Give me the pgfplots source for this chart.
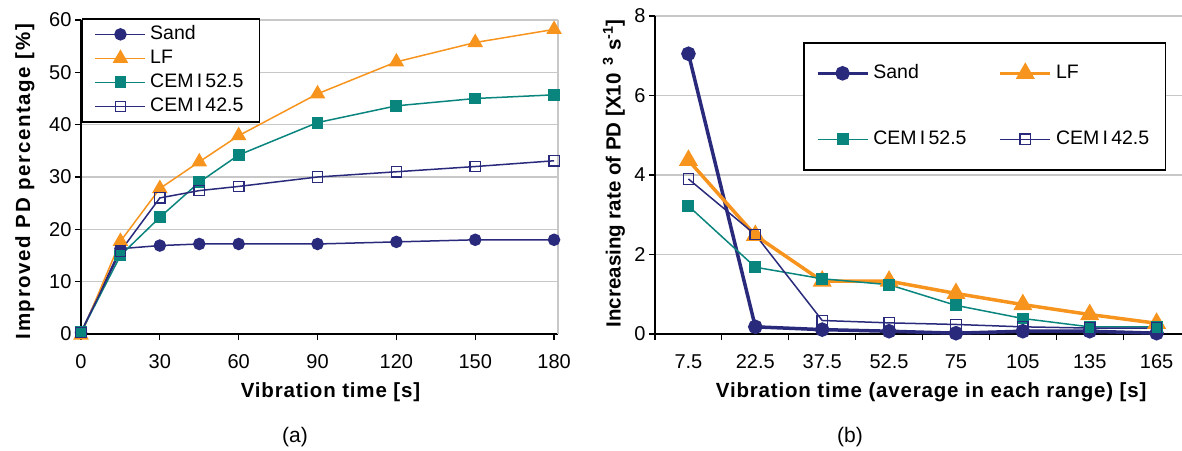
\documentclass[border=0pt]{standalone}
\usepackage{pgfplots}
\pgfplotsset{compat=1.18}
\usepackage{fontspec}
\setmainfont{Liberation Sans}
\newfontfamily\lsA[LetterSpace=8]{Liberation Sans}
\newfontfamily\lsB[LetterSpace=4]{Liberation Sans}
\definecolor{navy}{HTML}{2A2A7C}
\definecolor{lforange}{HTML}{F7941E}
\definecolor{teal2}{HTML}{0A857E}
\definecolor{gridgray}{HTML}{C8C8C8}
\pgfplotsset{
  common/.style={
    scale only axis, clip=false,
    axis lines*=left,
    axis line style={black, line width=1.3pt},
    tick style={black, line width=1.2pt},
    tick align=outside, major tick length=6pt, minor tick length=7pt,
    ymajorgrids, grid style={gridgray, line width=1.5pt},
    /pgf/number format/assume math mode=true,
    tick label style={font=\fontsize{20}{24}\selectfont},
    xticklabel style={yshift=-11pt},
    label style={font=\fontsize{20.5}{24}\bfseries},
    legend cell align=left,
    legend image code/.code={\draw[mark repeat=2,mark phase=2,##1] plot coordinates {(0pt,0pt)(25pt,0pt)(50pt,0pt)};},
  },
  sand/.style={navy, line width=1.5pt, mark=*, mark size=5.5pt, mark options={solid, fill=navy, draw=navy}},
  lf/.style={lforange, line width=1.5pt, mark=triangle*, mark size=7.5pt, mark options={solid, fill=lforange, draw=lforange}},
  cemA/.style={teal2, line width=1.5pt, mark=square*, mark size=5.2pt, mark options={solid, fill=teal2, draw=teal2}},
  cemB/.style={navy, line width=1.5pt, mark=square, mark size=5.2pt, mark options={solid, fill=white, draw=navy, line width=1.3pt}},
}
\begin{document}
\begin{tikzpicture}[x=1pt,y=1pt]
\useasboundingbox (0,0) rectangle (1182,450);
% ---------- (a) ----------
\begin{axis}[common,
  at={(81pt,116pt)}, anchor=south west,
  width=477pt, height=314pt,
  xmin=0, xmax=181.5, ymin=0, ymax=60,
  xtick={0,30,...,180}, ytick={0,10,...,60},
  xlabel={\lsB\bfseries Vibration time [s]},
  ylabel={\lsA\bfseries Improved PD percentage [\%]},
  xlabel style={at={(axis description cs:0.523,-0.185)}, anchor=center},
  ylabel style={at={(axis description cs:-0.1176,0.485)}, anchor=center, rotate=0},
  legend style={at={(axis description cs:0.002,1.006)}, anchor=north west,
    draw=black, line width=1.5pt, fill=white,
    font=\fontsize{19.5}{23}\selectfont,
    inner xsep=12pt, inner ysep=5pt,
    nodes={inner ysep=1.5pt, inner xsep=4pt, text height=14pt, text depth=4pt},
    row sep=3pt},
]
\draw[gridgray, line width=1.5pt] (rel axis cs:1,0) -- (rel axis cs:1,1);
\addplot[sand] coordinates {(0,0.3)(15,16.3)(30,16.9)(45,17.2)(60,17.2)(90,17.2)(120,17.6)(150,18.0)(180,18.0)};
\addlegendentry{Sand}
\addplot[lf] coordinates {(0,-0.2)(15,17.7)(30,27.8)(45,32.9)(60,37.9)(90,45.9)(120,52.0)(150,55.7)(180,58.2)};
\addlegendentry{LF}
\addplot[cemA] coordinates {(0,0.3)(15,15.0)(30,22.3)(45,29.0)(60,34.2)(90,40.4)(120,43.6)(150,45.0)(180,45.7)};
\addlegendentry{CEM\,I\,52.5}
\addplot[cemB] coordinates {(0,0.3)(15,15.8)(30,26.0)(45,27.4)(60,28.2)(90,30.0)(120,31.0)(150,32.0)(180,33.1)};
\addlegendentry{CEM\,I\,42.5}
\end{axis}
\node[font=\fontsize{21}{24}\selectfont] at (295,13) {(a)};
% ---------- (b) ----------
\begin{axis}[common,
  at={(655pt,116pt)}, anchor=south west,
  width=527pt, height=318pt,
  xmin=0.5, xmax=8.38, ymin=0, ymax=8,
  xtick={0.5,1.5,...,7.5}, xticklabels={},
  extra x ticks={1,2,3,4,5,6,7,8},
  extra x tick labels={7.5,22.5,37.5,52.5,75,105,135,165},
  extra x tick style={tick style={draw=none}},
  ytick={0,2,...,8},
  xlabel={\lsB\bfseries Vibration time (average in each range) [s]},
  ylabel={Increasing rate of PD [X10 \textsuperscript{\,3} s\textsuperscript{-1}]},
  xlabel style={at={(axis description cs:0.524,-0.182)}, anchor=center},
  ylabel style={at={(axis description cs:-0.078,0.505)}, anchor=center},
  legend columns=2,
  legend style={at={(axis description cs:0.281,0.918)}, anchor=north west,
    draw=black, line width=1.5pt, fill=white,
    font=\fontsize{19.5}{23}\selectfont,
    inner xsep=12pt, inner ysep=20pt,
    nodes={inner ysep=1.5pt, inner xsep=4pt, text height=14pt, text depth=4pt},
    row sep=45pt,
    /tikz/every even column/.append style={column sep=28pt}},
]
\addplot[sand, line width=3.5pt] coordinates {(1,7.05)(2,0.18)(3,0.11)(4,0.07)(5,0.02)(6,0.07)(7,0.07)(8,0.02)};
\addlegendentry{Sand}
\addplot[lf, line width=3.5pt] coordinates {(1,4.37)(2,2.48)(3,1.33)(4,1.33)(5,1.02)(6,0.74)(7,0.49)(8,0.27)};
\addlegendentry{LF}
\addplot[cemA] coordinates {(1,3.22)(2,1.68)(3,1.39)(4,1.24)(5,0.72)(6,0.39)(7,0.18)(8,0.18)};
\addlegendentry{CEM\,I\,52.5}
\addplot[cemB] coordinates {(1,3.90)(2,2.50)(3,0.34)(4,0.28)(5,0.24)(6,0.18)(7,0.15)(8,0.15)};
\addlegendentry{CEM\,I\,42.5}
\end{axis}
\node[font=\fontsize{21}{24}\selectfont] at (850,13) {(b)};
\end{tikzpicture}
\end{document}
